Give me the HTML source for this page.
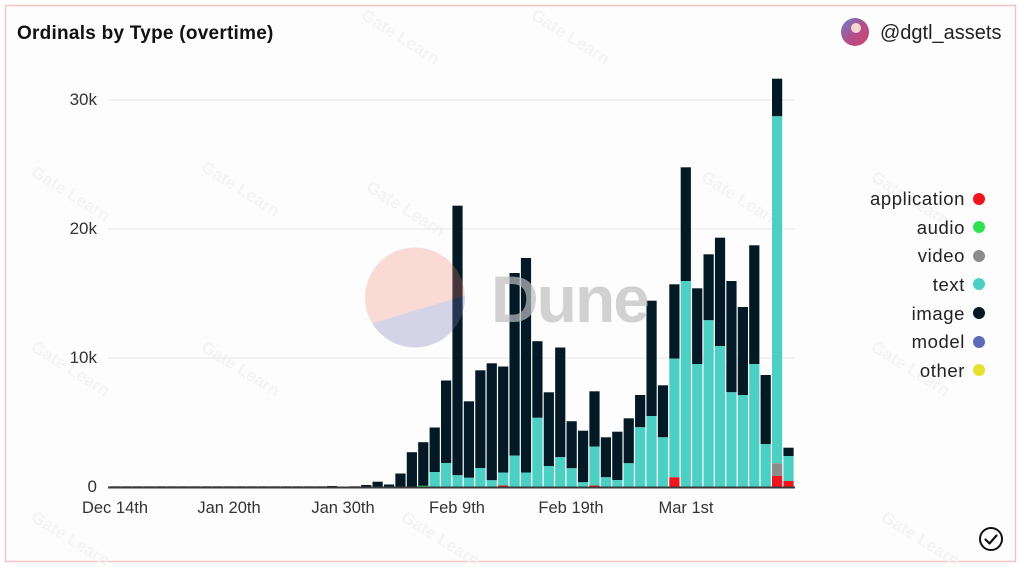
<!DOCTYPE html>
<html><head><meta charset="utf-8"><style>
html,body{margin:0;padding:0;background:#fff;}
body{width:1024px;height:568px;overflow:hidden;font-family:"Liberation Sans",sans-serif;}
</style></head><body>
<svg width="1024" height="568" viewBox="0 0 1024 568" xmlns="http://www.w3.org/2000/svg" font-family="Liberation Sans, sans-serif">
<rect x="0" y="0" width="1024" height="568" fill="#fff"/>
<rect x="5.5" y="5.5" width="1010" height="556" fill="#fdfdfd" stroke="#f7c4c4" stroke-width="1.5"/>
<!-- faint watermarks -->
<g fill="#f4f4f4" font-size="17" font-weight="bold">
<text transform="translate(360,18) rotate(32)">Gate Learn</text>
<text transform="translate(530,18) rotate(32)">Gate Learn</text>
<text transform="translate(30,175) rotate(32)">Gate Learn</text>
<text transform="translate(365,190) rotate(32)">Gate Learn</text>
<text transform="translate(700,180) rotate(32)">Gate Learn</text>
<text transform="translate(30,350) rotate(32)">Gate Learn</text>
<text transform="translate(200,170) rotate(32)">Gate Learn</text>
<text transform="translate(200,350) rotate(32)">Gate Learn</text>
<text transform="translate(700,360) rotate(32)">Gate Learn</text>
<text transform="translate(870,180) rotate(32)">Gate Learn</text>
<text transform="translate(870,350) rotate(32)">Gate Learn</text>
<text transform="translate(30,520) rotate(32)">Gate Learn</text>
<text transform="translate(400,520) rotate(32)">Gate Learn</text>
<text transform="translate(880,520) rotate(32)">Gate Learn</text>
</g>
<!-- title -->
<text x="17" y="39" font-size="19" font-weight="bold" fill="#111" letter-spacing="0.25">Ordinals by Type (overtime)</text>
<!-- avatar -->
<defs><linearGradient id="av" x1="0" y1="0" x2="1" y2="1"><stop offset="0" stop-color="#6a7fd0"/><stop offset="0.5" stop-color="#b0508a"/><stop offset="1" stop-color="#d0406a"/></linearGradient></defs>
<circle cx="855" cy="32" r="14" fill="url(#av)"/>
<circle cx="856" cy="28" r="5" fill="#f2d8d0"/>
<text x="880" y="39" font-size="20" fill="#222">@dgtl_assets</text>
<!-- grid -->
<g stroke="#e8e8e8" stroke-width="1">
<line x1="108" y1="100" x2="795" y2="100"/>
<line x1="108" y1="229" x2="795" y2="229"/>
<line x1="108" y1="358" x2="795" y2="358"/>
</g>
<g font-size="17" fill="#333" text-anchor="end">
<text x="97" y="105">30k</text>
<text x="97" y="234">20k</text>
<text x="97" y="363">10k</text>
<text x="97" y="492">0</text>
</g>
<g font-size="16.5" fill="#333" text-anchor="middle">
<text x="115" y="513">Dec 14th</text>
<text x="229" y="513">Jan 20th</text>
<text x="343" y="513">Jan 30th</text>
<text x="457" y="513">Feb 9th</text>
<text x="571" y="513">Feb 19th</text>
<text x="686" y="513">Mar 1st</text>
</g>
<g id="bars"></g>
<line x1="108" y1="487.5" x2="795" y2="487.5" stroke="#3a3a3a" stroke-width="2"/>
<!-- Dune watermark -->
<clipPath id="cp"><circle cx="415" cy="297.5" r="50"/></clipPath>
<g clip-path="url(#cp)">
<polygon points="360,240 470,240 470,294 360,327" fill="rgba(240,130,110,0.28)"/>
<polygon points="360,327 470,294 470,360 360,360" fill="rgba(120,120,180,0.3)"/>
</g>
<text x="491" y="322" font-size="66" font-weight="bold" fill="rgba(190,190,190,0.7)" letter-spacing="-2">Dune</text>
<!-- legend -->
<g font-size="18.5" fill="#222" text-anchor="end" letter-spacing="0.6">
<text x="965" y="205">application</text>
<text x="965" y="234">audio</text>
<text x="965" y="262">video</text>
<text x="965" y="291">text</text>
<text x="965" y="320">image</text>
<text x="965" y="348">model</text>
<text x="965" y="377">other</text>
</g>
<circle cx="979" cy="199" r="6" fill="#f0141e"/>
<circle cx="979" cy="227" r="6" fill="#2ee34f"/>
<circle cx="979" cy="256" r="6" fill="#8c8c8c"/>
<circle cx="979" cy="284" r="6" fill="#4dd0c4"/>
<circle cx="979" cy="313" r="6" fill="#031926"/>
<circle cx="979" cy="342" r="6" fill="#5b6bb5"/>
<circle cx="979" cy="370" r="6" fill="#e6e02e"/>
<!-- check -->
<circle cx="991" cy="539" r="11" fill="none" stroke="#111" stroke-width="2"/>
<polyline points="985.5,539.5 989.5,543.5 996.5,535.5" fill="none" stroke="#111" stroke-width="2.2" stroke-linecap="round" stroke-linejoin="round"/>
</svg>
<script>
var d=[
[19,486],[20,486.5],[21,486.3],[22,485],[23,481.7],[24,484.5],[25,473.5,486.5],
[26,452.2,486.5],[27,442.2,null,0,485.7],[28,427.5,472],[29,380.5,463],[30,205.7,475.3],
[31,401.3,477.8],[32,370.3,468],[33,363.3,480.3],[34,366.5,472.5,485.5],[35,273,455.5],
[36,258,472.5],[37,341.2,417.8],[38,392.3,466],[39,347.5,457.2],[40,421.2,468.3],
[41,430.7,482.3],[42,391.3,446.5,485.5],[43,437.3,477.3],[44,431.7,480],[45,418.3,463.3],
[46,395,427.3],[47,300.7,416],[48,385.3,437.3],[49,284.3,358.7,477.3],[50,167.3,281],
[51,288.3,364],[52,254.3,320.3],[53,237.7,346],[54,281,392.3],[55,307,395],[56,245.3,364],
[57,375,444],[58,78.7,116.3,476,0,463.3],[59,447.7,456,481]
];
var B=487,g=document.getElementById('bars'),ns='http://www.w3.org/2000/svg';
function r(x,y1,y2,c){if(y2-y1<=0)return;var e=document.createElementNS(ns,'rect');e.setAttribute('x',x);e.setAttribute('y',y1);e.setAttribute('width',10.2);e.setAttribute('height',y2-y1);e.setAttribute('fill',c);g.appendChild(e);}
for(var k=0;k<19;k++){r(115.1+k*11.414-5.1,486.3,B,'#031926');}
d.forEach(function(a){
 var x=115.1+a[0]*11.414-5.1;
 var top=a[1],tt=a[2]||B,red=a[3]||B,grn=a[4];
 var vid=null;
 if(a[0]==58){vid=463.3;}
 if(a[0]==27){grn=485.7;tt=B;}
 var textBottom=B;
 if(red<B)textBottom=red;
 if(vid){textBottom=vid;}
 r(x,top,tt,'#031926');
 r(x,tt,textBottom,'#4dd0c4');
 if(vid)r(x,vid,red,'#8c8c8c');
 if(red<B)r(x,red,B,'#f0141e');
 if(a[0]==27)r(x,485.7,B,'#2ee34f');
});
</script>
</body></html>
